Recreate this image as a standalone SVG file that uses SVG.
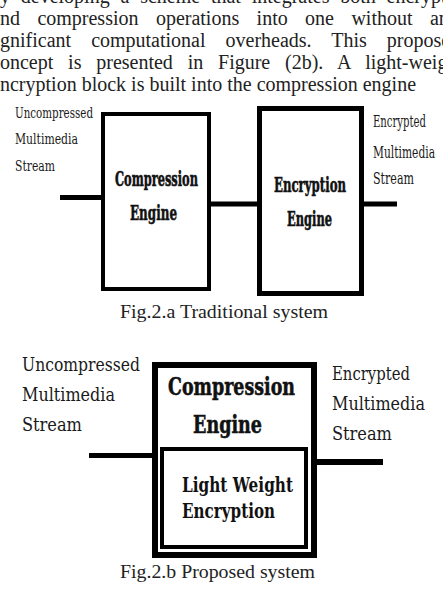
<svg xmlns="http://www.w3.org/2000/svg" width="443" height="589" viewBox="0 0 443 589">
<style>
.para{font-family:"Liberation Serif","Times New Roman",serif;font-size:20px;fill:#222}
.cap{font-family:"Liberation Serif","Times New Roman",serif;font-size:19px;fill:#222}
.lbl{font-family:"DejaVu Serif",serif;fill:#1a1a1a}
.blk{font-family:"DejaVu Serif",serif;font-weight:bold;fill:#111}
.heavy{stroke:#111;stroke-width:0.6}
.box{fill:#fff;stroke:#000}
.wire{stroke:#000;fill:none}
</style>
<rect width="443" height="589" fill="#fff"/>
<g id="paragraph" class="para">
<text x="-10" y="3" style="word-spacing:5.8px">by developing a scheme that integrates both encryption</text>
<text x="-8.9" y="25" style="word-spacing:12.4px">and compression operations into one without any</text>
<text x="-13.3" y="47" style="word-spacing:15px">significant computational overheads. This proposed</text>
<text x="-8.9" y="69" style="word-spacing:9.8px">concept is presented in Figure (2b). A light-weight</text>
<text x="-8.9" y="91">encryption block is built into the compression engine</text>
</g>
<g id="connectors">
<line class="wire" x1="60" y1="197.5" x2="103" y2="197.5" stroke-width="5"/>
<line class="wire" x1="211" y1="204" x2="259" y2="204" stroke-width="5"/>
<line class="wire" x1="362" y1="204" x2="397" y2="204" stroke-width="5"/>
<line class="wire" x1="89" y1="455.5" x2="155" y2="455.5" stroke-width="5"/>
<line class="wire" x1="314" y1="462" x2="383" y2="462" stroke-width="6"/>
</g>
<g id="fig-a-input-label" class="lbl" font-size="15.5">
<text x="15" y="118" textLength="78" lengthAdjust="spacingAndGlyphs">Uncompressed</text>
<text x="15" y="144" textLength="63" lengthAdjust="spacingAndGlyphs">Multimedia</text>
<text x="15" y="171" textLength="40" lengthAdjust="spacingAndGlyphs">Stream</text>
</g>
<g id="fig-a-compression">
<rect class="box" x="103" y="114" width="106" height="175" stroke-width="4"/>
<text class="blk heavy" x="115" y="186" font-size="21" textLength="83" lengthAdjust="spacingAndGlyphs">Compression</text>
<text class="blk heavy" x="130" y="220" font-size="21" textLength="47" lengthAdjust="spacingAndGlyphs">Engine</text>
</g>
<g id="fig-a-encryption">
<rect class="box" x="259.5" y="108.5" width="102" height="185" stroke-width="5"/>
<text class="blk heavy" x="274" y="192" font-size="21" textLength="72" lengthAdjust="spacingAndGlyphs">Encryption</text>
<text class="blk heavy" x="287" y="226" font-size="21" textLength="45" lengthAdjust="spacingAndGlyphs">Engine</text>
</g>
<g id="fig-a-output-label" class="lbl" font-size="16">
<text x="373" y="127" textLength="53" lengthAdjust="spacingAndGlyphs">Encrypted</text>
<text x="373" y="158" textLength="62" lengthAdjust="spacingAndGlyphs">Multimedia</text>
<text x="373" y="184" textLength="41" lengthAdjust="spacingAndGlyphs">Stream</text>
</g>
<text class="cap" x="120" y="318" textLength="208" lengthAdjust="spacingAndGlyphs">Fig.2.a Traditional system</text>
<g id="fig-b-input-label" class="lbl" font-size="19">
<text x="22" y="371" textLength="118" lengthAdjust="spacingAndGlyphs">Uncompressed</text>
<text x="22" y="401" textLength="93" lengthAdjust="spacingAndGlyphs">Multimedia</text>
<text x="22" y="431" textLength="60" lengthAdjust="spacingAndGlyphs">Stream</text>
</g>
<g id="fig-b-compression">
<rect class="box" x="155" y="365" width="159" height="190" stroke-width="6"/>
<text class="blk heavy" x="168" y="395" font-size="25" textLength="127" lengthAdjust="spacingAndGlyphs">Compression</text>
<text class="blk heavy" x="193" y="433" font-size="25" textLength="69" lengthAdjust="spacingAndGlyphs">Engine</text>
</g>
<g id="fig-b-light-weight-encryption">
<rect class="box" x="162" y="449" width="144" height="98" stroke-width="4"/>
<text class="blk" x="182" y="492" font-size="20" textLength="111" lengthAdjust="spacingAndGlyphs">Light Weight</text>
<text class="blk" x="182" y="518" font-size="20" textLength="93" lengthAdjust="spacingAndGlyphs">Encryption</text>
</g>
<g id="fig-b-output-label" class="lbl" font-size="19">
<text x="332" y="380" textLength="78" lengthAdjust="spacingAndGlyphs">Encrypted</text>
<text x="332" y="410" textLength="93" lengthAdjust="spacingAndGlyphs">Multimedia</text>
<text x="332" y="440" textLength="60" lengthAdjust="spacingAndGlyphs">Stream</text>
</g>
<text class="cap" x="120" y="578" textLength="195" lengthAdjust="spacingAndGlyphs">Fig.2.b Proposed system</text>
</svg>
